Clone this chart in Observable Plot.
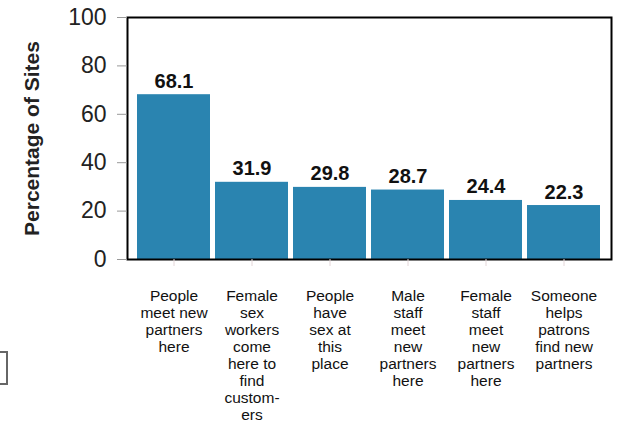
<!DOCTYPE html>
<html>
<head>
<meta charset="utf-8">
<script src="https://cdn.jsdelivr.net/npm/d3@7"></script>
<script src="https://cdn.jsdelivr.net/npm/@observablehq/plot@0.6"></script>
<style>
  html, body { margin: 0; padding: 0; background: #fff; }
  #wrap { position: relative; width: 626px; height: 427px; overflow: hidden; }
  #box { position: absolute; left: -3px; top: 351px; width: 7px; height: 30px; border: 2px solid #666; background: #fff; }
  svg { font-family: "Liberation Sans", Arial, Helvetica, sans-serif; }
</style>
</head>
<body>
<div id="wrap"><div id="box"></div></div>
<script>
const categories = [
  "People\nmeet new\npartners\nhere",
  "Female\nsex\nworkers\ncome\nhere to\nfind\ncustom-\ners",
  "People\nhave\nsex at\nthis\nplace",
  "Male\nstaff\nmeet\nnew\npartners\nhere",
  "Female\nstaff\nmeet\nnew\npartners\nhere",
  "Someone\nhelps\npatrons\nfind new\npartners"
];
const values = [68.1, 31.9, 29.8, 28.7, 24.4, 22.3];
const yTicks = [0, 20, 40, 60, 80, 100];
const yLabel = "Percentage of Sites";

const data = categories.map((c, i) => ({category: c, value: values[i]}));

const chart = Plot.plot({
  width: 626,
  height: 427,
  marginTop: 17,
  marginLeft: 127,
  marginRight: 15,
  marginBottom: 168,
  style: {fontFamily: '"Liberation Sans", Arial, Helvetica, sans-serif', background: "#fff"},
  x: {domain: categories, paddingInner: 0.063, paddingOuter: 0.095, label: null},
  y: {domain: [0, 100], label: null},
  marks: [
    Plot.barY(data, {x: "category", y: "value", fill: "#2a84b0"}),
    Plot.text(data, {x: "category", y: "value", text: d => d.value.toFixed(1), lineAnchor: "bottom", dy: -7, fontWeight: "bold", fontSize: 20, fill: "#111"}),
    Plot.frame({stroke: "#000", strokeWidth: 2}),
    Plot.axisY({ticks: yTicks, tickSize: 10, tickPadding: 11, fontSize: 23, stroke: "#999", fill: "#222", label: null}),
    Plot.axisX({tickSize: 7, tickPadding: 0, stroke: "#e3d6d8", tickFormat: () => "", label: null}),
    Plot.axisX({tickSize: 0, tickPadding: 29, fontSize: 15.5, lineHeight: 1.1, fill: "#111", label: null}),
    Plot.text([yLabel], {frameAnchor: "left", textAnchor: "middle", rotate: -90, dx: -95, fontWeight: "bold", fontSize: 21, fill: "#222"})
  ]
});
document.getElementById("wrap").appendChild(chart);
</script>
</body>
</html>
